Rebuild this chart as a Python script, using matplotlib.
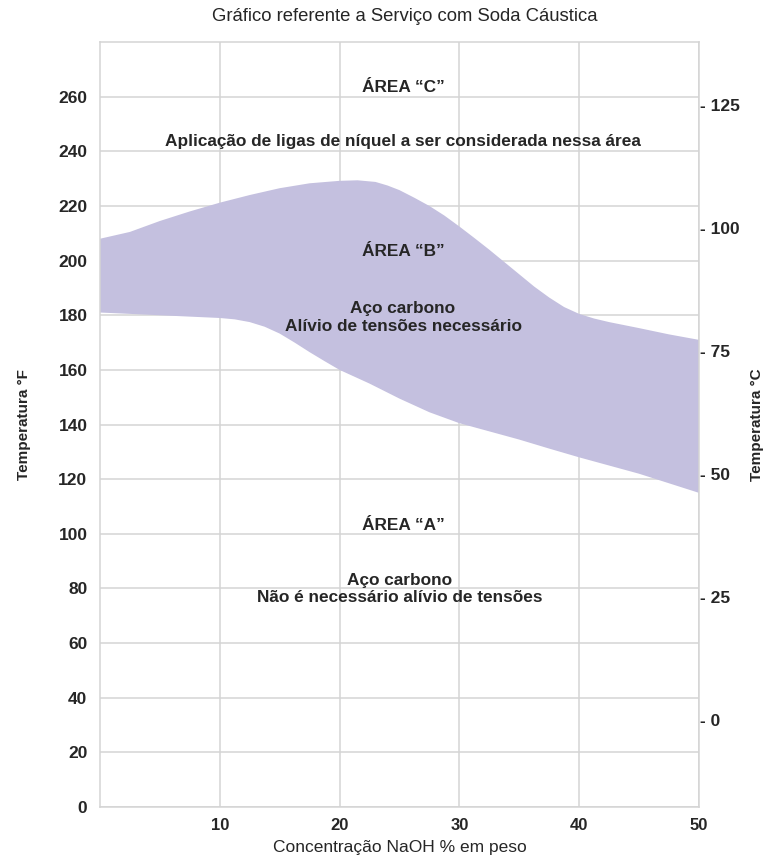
import matplotlib
matplotlib.use('Agg')
import matplotlib.pyplot as plt

# concentração NaOH (% em peso) e limites da área "B" em °F
conc_up = [0, 2.5, 5, 7.5, 10, 12.5, 15, 17.5, 20, 21.5, 23, 24, 25, 26.25,
           27.5, 28.75, 30, 31.25, 32.5, 33.75, 35, 36.25, 37.5, 38.75, 40,
           41.25, 42.5, 45, 47.5, 50]
b_upper = [208, 210.5, 214.5, 218, 221.2, 224, 226.5, 228.3, 229.2, 229.4,
           228.8, 227.5, 225.8, 223, 220, 216.5, 212.5, 208.3, 204, 199.5,
           195, 190.5, 186.5, 183, 180.5, 178.8, 177.5, 175.3, 173, 171]
conc_lo = [0, 2.5, 5, 7.5, 10, 11.25, 12.5, 13.75, 15, 16.25, 17.5, 18.75,
           20, 22.5, 25, 27.5, 30, 32.5, 35, 37.5, 40, 42.5, 45, 47.5, 50]
b_lower = [181, 180.5, 180, 179.5, 179, 178.5, 177.5, 175.8, 173.3, 170,
           166.5, 163.2, 160, 155, 149.5, 144.5, 140.5, 137.5, 134.5, 131.2,
           128, 125, 122, 118.5, 115]

xticks = [10, 20, 30, 40, 50]
yticks_f = list(range(0, 261, 20))
yticks_c = [0, 25, 50, 75, 100, 125]

title = 'Gráfico referente a Serviço com Soda Cáustica'
xlabel = 'Concentração NaOH % em peso'

plt.rcParams['font.family'] = ['Liberation Sans', 'DejaVu Sans']
txt = '#262626'
grid = '#d4d4d4'

fig = plt.figure(figsize=(7.63, 8.58), dpi=100)
ax = fig.add_axes([0.131, 0.0594, 0.785, 0.8916])

# polígono da área B: limite superior seguido do inferior invertido
ax.fill(conc_up + conc_lo[::-1], b_upper + b_lower[::-1],
        color='#c4c0df', lw=0, zorder=2)

ax.set_xlim(0, 50)
ax.set_ylim(0, 280)
ax.set_xticks(xticks)
ax.set_yticks(yticks_f)
ax.grid(True, color=grid, lw=1.1, zorder=1)
for s in ax.spines.values():
    s.set_color(grid)
    s.set_linewidth(1.1)
ax.tick_params(length=0, colors=txt)
ax.tick_params(axis='x', pad=8, labelsize=12)
ax.tick_params(axis='y', pad=9, labelsize=12.5)
for lab in ax.get_xticklabels() + ax.get_yticklabels():
    lab.set_fontweight('bold')
ax.set_xlabel(xlabel, fontsize=12.5, color=txt, labelpad=5)
ax.set_ylabel('Temperatura °F', fontsize=11, color=txt, fontweight='bold',
              labelpad=20)

# eixo secundário em °C
ax2 = ax.twinx()
ax2.set_ylim((0 - 32) * 5 / 9, (280 - 32) * 5 / 9)
ax2.set_yticks(yticks_c)
ax2.set_yticklabels(['- %d' % c for c in yticks_c])
ax2.tick_params(length=0, pad=1, labelsize=12.5, colors=txt)
for lab in ax2.get_yticklabels():
    lab.set_fontweight('bold')
for s in ax2.spines.values():
    s.set_visible(False)
ax2.set_ylabel('Temperatura °C', fontsize=11, color=txt, fontweight='bold',
               labelpad=7)

fig.text(0.531, 0.981, title, ha='center', va='center', fontsize=13.3,
         color=txt)

kw = dict(ha='center', va='center', fontsize=12.4, fontweight='bold',
          color=txt, zorder=3)
ax.text(25.3, 263.5, 'ÁREA “C”', **kw)
ax.text(25.3, 243.5, 'Aplicação de ligas de níquel a ser considerada nessa área', **kw)
ax.text(25.3, 203.2, 'ÁREA “B”', **kw)
ax.text(25.3, 179.2, 'Aço carbono\nAlívio de tensões necessário',
        linespacing=1.3, **kw)
ax.text(25.3, 103.1, 'ÁREA “A”', **kw)
ax.text(25.0, 79.9, 'Aço carbono\nNão é necessário alívio de tensões',
        linespacing=1.2, **kw)

fig.savefig('out.png', dpi=100)
